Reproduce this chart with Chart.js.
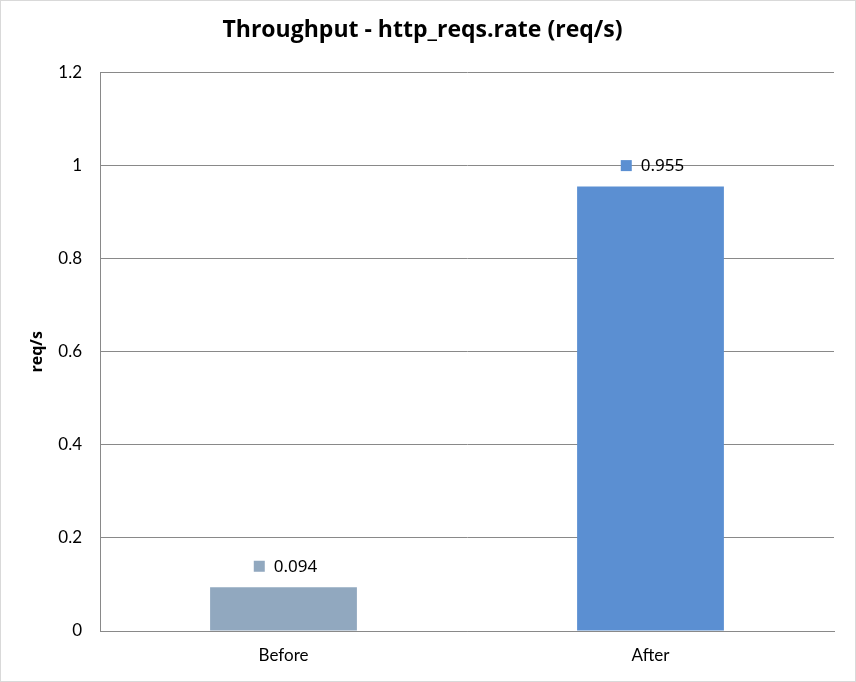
<!DOCTYPE html>
<html>
<head>
<meta charset="utf-8">
<script src="https://cdn.jsdelivr.net/npm/chart.js@4"></script>
<style>
  html, body { margin: 0; padding: 0; background: #fff; }
  #wrap { width: 854px; height: 680px; border: 1px solid #d9d9d9; position: relative; }
  canvas { display: block; }
</style>
</head>
<body>
<div id="wrap"><canvas id="chart" width="854" height="680"></canvas></div>
<script>
const categories = ['Before', 'After'];
const rates = [0.094, 0.955];
const barColors = ['#91a8bf', '#5b8fd2'];
const yTicks = [0, 0.2, 0.4, 0.6, 0.8, 1, 1.2];

// draws the little colour square + value above each bar
const valueLabels = {
    id: 'valueLabels',
    afterDatasetsDraw(chart) {
        const ctx = chart.ctx;
        const meta = chart.getDatasetMeta(0);
        ctx.save();
        ctx.font = '17px "Noto Sans", sans-serif';
        ctx.textBaseline = 'middle';
        meta.data.forEach((bar, i) => {
            const text = rates[i].toFixed(3);
            const tw = ctx.measureText(text).width;
            const sq = 11, gap = 9;
            const total = sq + gap + tw;
            const x0 = bar.x - total / 2 + 2;
            const y = bar.y - 21;
            ctx.fillStyle = barColors[i];
            ctx.fillRect(x0, y - sq / 2, sq, sq);
            ctx.fillStyle = '#000';
            ctx.textAlign = 'left';
            ctx.fillText(text, x0 + sq + gap, y + 1);
        });
        ctx.restore();
    }
};

new Chart(document.getElementById('chart'), {
    type: 'bar',
    data: {
        labels: categories,
        datasets: [{
            data: rates,
            backgroundColor: barColors,
            barPercentage: 0.4,
            categoryPercentage: 1
        }]
    },
    options: {
        responsive: false,
        animation: false,
        layout: { padding: { left: 10, right: 21, top: 0, bottom: 0 } },
        plugins: {
            legend: { display: false },
            tooltip: { enabled: false },
            title: {
                display: true,
                text: 'Throughput - http_reqs.rate (req/s)',
                color: '#000',
                font: { family: '"Open Sans"', size: 23, weight: 'bold' },
                padding: { top: 16, bottom: 28 }
            }
        },
        scales: {
            x: {
                grid: { display: false, drawTicks: false },
                border: { display: true, color: '#898989', width: 1 },
                ticks: { color: '#000', font: { family: 'Lato', size: 17 }, padding: 14 },
                afterFit(scale) { scale.height = 50; }
            },
            y: {
                min: 0,
                max: 1.2,
                afterBuildTicks(scale) { scale.ticks = yTicks.map(v => ({ value: v })); },
                grid: { color: '#898989', drawTicks: false },
                border: { display: true, color: '#898989', width: 1 },
                ticks: {
                    color: '#000',
                    font: { family: 'Lato', size: 17 },
                    padding: 18,
                    callback: v => String(v)
                },
                title: {
                    display: true,
                    text: 'req/s',
                    color: '#000',
                    font: { family: '"Open Sans"', size: 16, weight: 'bold' },
                    padding: { top: 17, bottom: 0 }
                },
                afterFit(scale) { scale.width = 89; }
            }
        }
    },
    plugins: [valueLabels]
});
</script>
</body>
</html>
